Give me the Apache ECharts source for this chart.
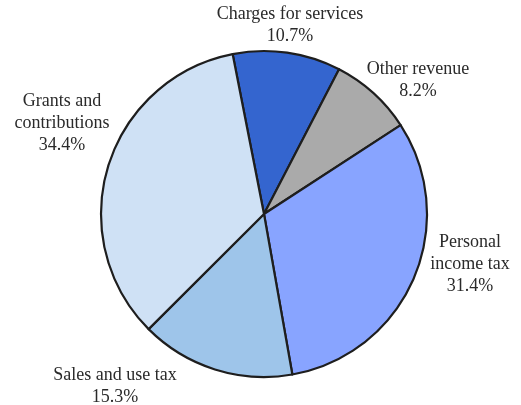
<!DOCTYPE html>
<html>
<head>
<meta charset="utf-8">
<script src="https://cdn.jsdelivr.net/npm/echarts@6/dist/echarts.min.js"></script>
<style>
  html, body { margin: 0; padding: 0; background: #fff; }
  #chart { width: 521px; height: 405px; }
</style>
</head>
<body>
<div id="chart"></div>
<script>
// Revenue sources, clockwise from the top
const categories = ['Charges for services', 'Other revenue', 'Personal income tax', 'Sales and use tax', 'Grants and contributions'];
const shares = [10.7, 8.2, 31.4, 15.3, 34.4];
const labelLines = [
  ['Charges for services'],
  ['Other revenue'],
  ['Personal', 'income tax'],
  ['Sales and use tax'],
  ['Grants and', 'contributions']
];
const sliceColors = ['#3465cf', '#aaaaaa', '#88a4ff', '#9ec5ea', '#cfe1f5'];

// Centre of each label block (px)
const labelAnchors = [
  [290, 25],
  [418, 80],
  [470, 264],
  [115, 386],
  [62, 123]
];

const chart = echarts.init(document.getElementById('chart'), null, { renderer: 'canvas' });

chart.setOption({
  animation: false,
  backgroundColor: '#ffffff',
  series: [{
    type: 'pie',
    center: [264, 214],
    radius: 163,
    startAngle: 101.1,
    clockwise: true,
    data: categories.map((name, i) => ({
      name: name,
      value: shares[i],
      itemStyle: { color: sliceColors[i] }
    })),
    itemStyle: { borderColor: '#1e1e1e', borderWidth: 2.2 },
    label: {
      show: true,
      position: 'outside',
      formatter: (p) => labelLines[p.dataIndex].concat(p.value.toFixed(1) + '%').join('\n'),
      fontFamily: 'Liberation Serif',
      fontSize: 18,
      lineHeight: 22,
      color: '#2a2a2a',
      align: 'center',
      overflow: 'none'
    },
    labelLine: { show: false },
    labelLayout: (params) => ({
      x: labelAnchors[params.dataIndex][0],
      y: labelAnchors[params.dataIndex][1],
      align: 'center',
      verticalAlign: 'middle',
      hideOverlap: false,
      moveOverlap: null
    }),
    emphasis: { disabled: true }
  }]
});
</script>
</body>
</html>
